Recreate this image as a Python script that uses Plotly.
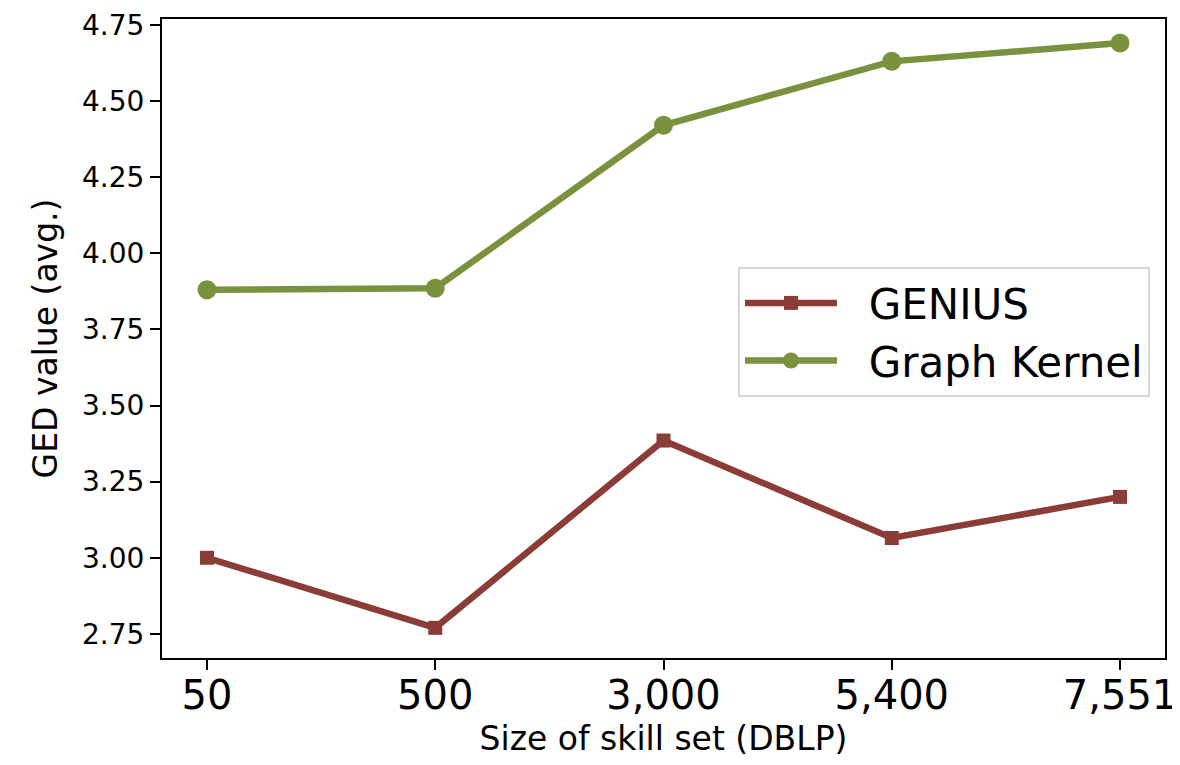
"""GED value by skill-set size on DBLP: GENIUS vs Graph Kernel."""

import plotly.graph_objects as go

skill_sizes = ["50", "500", "3,000", "5,400", "7,551"]
genius = [3.00, 2.77, 3.385, 3.065, 3.20]
graph_kernel = [3.88, 3.885, 4.42, 4.63, 4.69]
y_ticks = [2.75, 3.00, 3.25, 3.50, 3.75, 4.00, 4.25, 4.50, 4.75]

RED = "#8b3c37"
GREEN = "#7a913e"
FONT = "DejaVu Sans"
PAD = "\u00a0\u00a0"  # a little air between legend line and label

fig = go.Figure()
fig.add_trace(go.Scatter(
    x=skill_sizes, y=genius, name=PAD + "GENIUS", mode="lines+markers",
    line=dict(color=RED, width=6.5),
    marker=dict(symbol="square", size=14, color=RED),
))
fig.add_trace(go.Scatter(
    x=skill_sizes, y=graph_kernel, name=PAD + "Graph Kernel", mode="lines+markers",
    line=dict(color=GREEN, width=6.5),
    marker=dict(symbol="circle", size=19, color=GREEN),
))

axis_common = dict(
    showline=True, linecolor="black", linewidth=2, mirror=True,
    ticks="outside", ticklen=10, tickwidth=2, tickcolor="black",
    showgrid=False, zeroline=False, ticklabeloverflow="allow",
    automargin=False,
)
fig.update_xaxes(
    type="category", range=[-0.197, 4.197],
    tickfont=dict(family=FONT, size=40, color="black"),
    ticklabelstandoff=-9,
    title=dict(text="Size of skill set (DBLP)",
               font=dict(family=FONT, size=33, color="black"), standoff=10),
    **axis_common,
)
fig.update_yaxes(
    range=[2.671, 4.769], tickvals=y_ticks, tickformat=".2f",
    tickfont=dict(family=FONT, size=28, color="black"),
    title=dict(text="GED value (avg.)",
               font=dict(family=FONT, size=33, color="black"), standoff=15),
    **axis_common,
)
# the page body adds an 8px margin, so the figure is a bit smaller than the window
fig.update_layout(
    width=1172, height=757,
    margin=dict(l=154, r=15, t=11, b=107),
    paper_bgcolor="white", plot_bgcolor="white",
    font=dict(family=FONT, color="black"),
    legend=dict(
        x=0.985, y=0.51, xanchor="right", yanchor="middle",
        bgcolor="white", bordercolor="#d6d6d6", borderwidth=2,
        font=dict(family=FONT, size=42, color="black"),
        itemwidth=92, tracegroupgap=0,
    ),
)

fig.write_html("out.html")
